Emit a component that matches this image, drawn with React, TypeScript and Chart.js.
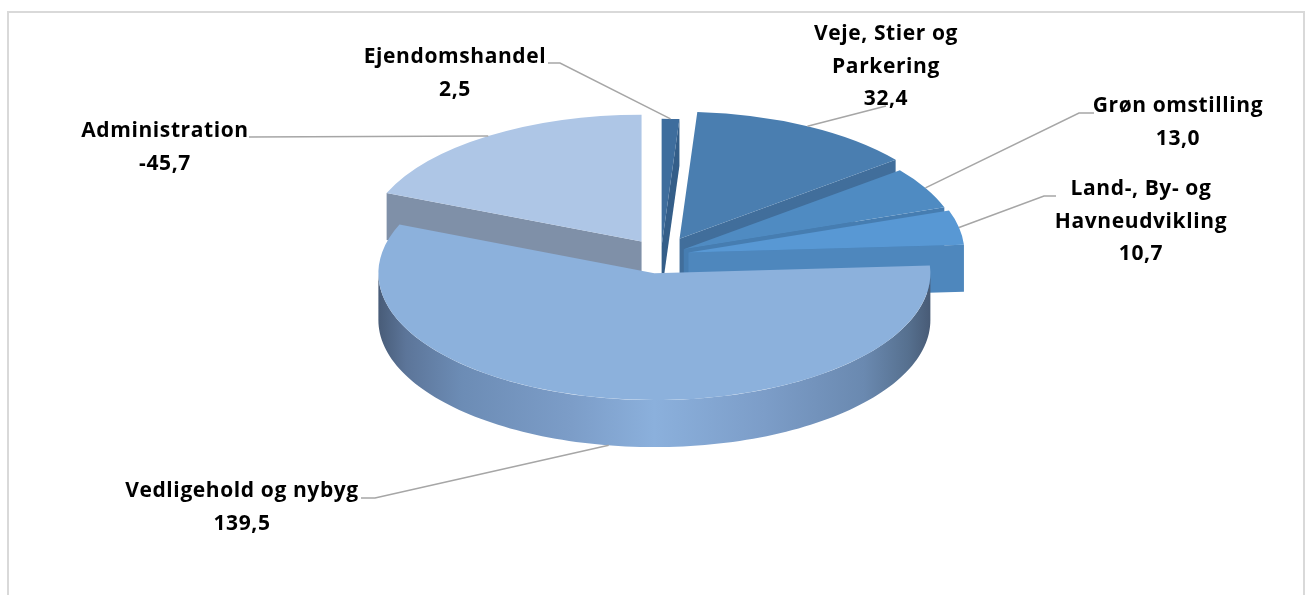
import React, { useEffect, useRef } from "react";
import { Chart, registerables } from "chart.js";

Chart.register(...registerables);

// ---------- data ----------
const categories = [
  "Ejendomshandel",
  "Veje, Stier og Parkering",
  "Grøn omstilling",
  "Land-, By- og Havneudvikling",
  "Vedligehold og nybyg",
  "Administration",
];
const categoryLines = [
  ["Ejendomshandel"],
  ["Veje, Stier og", "Parkering"],
  ["Grøn omstilling"],
  ["Land-, By- og", "Havneudvikling"],
  ["Vedligehold og nybyg"],
  ["Administration"],
];
const values = [2.5, 32.4, 13.0, 10.7, 139.5, -45.7];

// ---------- style ----------
const topColors = ["#3E6D9D", "#4A7EB0", "#4F8BC2", "#5898D4", "#8CB1DC", "#AEC6E6"];
const wallColors = ["#345E89", "#416E9B", "#467DB1", "#4E87BD", "#7595C0", "#7F90A8"];
const explode = [20, 40, 26, 28, 40, 35];
const labelAnchor = [
  [455, 63],
  [886, 40],
  [1178, 112],
  [1141, 195],
  [242, 497],
  [165, 137],
];
const leaderPath = [
  [[548, 63], [560, 63]],
  [[886, 106]],
  [[1094, 113], [1079, 113]],
  [[1056, 196], [1044, 196]],
  [[361, 498], [375, 498]],
  [[249, 137]],
];

const SCREEN_CY = 255;
const RATIO = 0.46;
const DEPTH = 47;
const RADIUS = 276;
const LINE_H = 32.5;

function fmt(v: number) {
  return v.toFixed(1).replace(".", ",");
}

function pt(it: any, a: number, down = 0): [number, number] {
  return [it.tx + Math.cos(a) * it.R, it.ty + Math.sin(a) * it.R * RATIO + down];
}

function drawWalls(ctx: CanvasRenderingContext2D, it: any) {
  const radial = (a: number) => {
    const o = pt(it, a);
    ctx.beginPath();
    ctx.moveTo(it.tx, it.ty);
    ctx.lineTo(o[0], o[1]);
    ctx.lineTo(o[0], o[1] + DEPTH);
    ctx.lineTo(it.tx, it.ty + DEPTH);
    ctx.closePath();
    ctx.fillStyle = wallColors[it.i];
    ctx.fill();
  };
  if (Math.cos(it.s) < -1e-6) radial(it.s);
  if (Math.cos(it.e) > 1e-6) radial(it.e);

  const a0 = Math.max(it.s, 0);
  const a1 = Math.min(it.e, Math.PI);
  if (a1 > a0) {
    const N = 120;
    ctx.beginPath();
    for (let k = 0; k <= N; k++) {
      const p = pt(it, a0 + ((a1 - a0) * k) / N);
      if (k === 0) ctx.moveTo(p[0], p[1]);
      else ctx.lineTo(p[0], p[1]);
    }
    for (let k = N; k >= 0; k--) {
      const p = pt(it, a0 + ((a1 - a0) * k) / N, DEPTH);
      ctx.lineTo(p[0], p[1]);
    }
    ctx.closePath();
    if (it.i === 4) {
      const g = ctx.createLinearGradient(it.tx - it.R, 0, it.tx + it.R, 0);
      g.addColorStop(0, "#485C78");
      g.addColorStop(0.05, "#5C7599");
      g.addColorStop(0.15, "#6C8CB5");
      g.addColorStop(0.35, "#7C9DC8");
      g.addColorStop(0.5, "#8BB0DC");
      g.addColorStop(0.7, "#7C9DC8");
      g.addColorStop(0.88, "#6A89B0");
      g.addColorStop(0.96, "#56708F");
      g.addColorStop(1, "#485B76");
      ctx.fillStyle = g;
    } else {
      ctx.fillStyle = wallColors[it.i];
    }
    ctx.fill();
  }
}

const pie3d = {
  id: "pie3d",
  beforeDatasetsDraw(chart: any) {
    const ctx: CanvasRenderingContext2D = chart.ctx;
    const meta = chart.getDatasetMeta(0);
    const items = meta.data.map((el: any, i: number) => {
      const s = el.startAngle;
      const e = el.endAngle;
      const R = el.outerRadius;
      const mid = (s + e) / 2;
      const d = explode[i];
      const tx = el.x + Math.cos(mid) * d;
      const ty = SCREEN_CY + Math.sin(mid) * d * RATIO;
      return { el, i, s, e, R, mid, d, tx, ty, key: ty + Math.sin(mid) * R * 0.5 * RATIO };
    });
    const order = [...items].sort((a: any, b: any) => a.key - b.key);
    for (const it of order) {
      drawWalls(ctx, it);
      ctx.save();
      ctx.translate(0, SCREEN_CY);
      ctx.scale(1, RATIO);
      ctx.translate(Math.cos(it.mid) * it.d, Math.sin(it.mid) * it.d - it.el.y);
      it.el.draw(ctx);
      ctx.restore();
    }
    chart.$pie3d = items;
    return false;
  },
  afterDraw(chart: any) {
    const ctx: CanvasRenderingContext2D = chart.ctx;
    const items = chart.$pie3d || [];
    ctx.save();
    // leader lines
    ctx.strokeStyle = "#A6A6A6";
    ctx.lineWidth = 1.5;
    items.forEach((it: any) => {
      const path = leaderPath[it.i];
      const end = pt(it, it.mid, Math.sin(it.mid) > 0 ? DEPTH : 0);
      ctx.beginPath();
      ctx.moveTo(path[0][0], path[0][1]);
      for (let k = 1; k < path.length; k++) ctx.lineTo(path[k][0], path[k][1]);
      ctx.lineTo(end[0], end[1]);
      ctx.stroke();
    });
    // labels
    ctx.font = 'bold 21px "Open Sans"';
    (ctx as any).letterSpacing = "0.6px";
    ctx.fillStyle = "#000000";
    ctx.textAlign = "center";
    ctx.textBaseline = "alphabetic";
    categories.forEach((_, i) => {
      const lines = [...categoryLines[i], fmt(values[i])];
      const [ax, ay] = labelAnchor[i];
      lines.forEach((t, k) => ctx.fillText(t, ax, ay + k * LINE_H));
    });
    ctx.restore();
  },
};

export default function App() {
  const ref = useRef<HTMLCanvasElement | null>(null);
  useEffect(() => {
    if (!ref.current) return;
    const chart = new Chart(ref.current, {
      type: "pie",
      data: {
        labels: categories,
        datasets: [
          {
            data: values.map((v) => Math.abs(v)),
            backgroundColor: topColors,
            borderWidth: 0,
            offset: 0,
            hoverOffset: 0,
            radius: RADIUS,
          } as any,
        ],
      },
      options: {
        animation: false,
        responsive: false,
        events: [],
        layout: { padding: { left: 12, right: 0, top: 0, bottom: 0 } },
        plugins: {
          legend: { display: false },
          tooltip: { enabled: false },
        },
      },
      plugins: [pie3d as any],
    });
    return () => chart.destroy();
  }, []);
  return (
    <div style={{ position: "fixed", left: 0, top: 0, width: 1310, height: 595, background: "#fff", overflow: "hidden" }}>
      <div
        style={{
          position: "absolute",
          left: 7,
          top: 11,
          width: 1294,
          height: 640,
          border: "2px solid #D9D9D9",
        }}
      />
      <canvas ref={ref} width={1310} height={595} style={{ position: "absolute", left: 0, top: 0 }} />
    </div>
  );
}
